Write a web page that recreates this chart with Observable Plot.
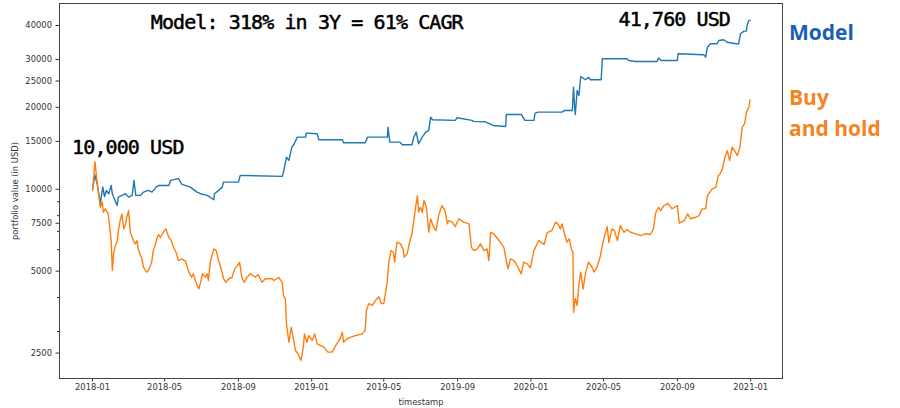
<!DOCTYPE html>
<html>
<head>
<meta charset="utf-8">
<script src="https://cdn.jsdelivr.net/npm/d3@7"></script>
<script src="https://cdn.jsdelivr.net/npm/@observablehq/plot@0.6"></script>
<style>
  html, body { margin: 0; padding: 0; background: #fff; }
  #wrap { position: relative; width: 900px; height: 408px; overflow: hidden; background: #fff; }
  .side { position: absolute; left: 789px; font-family: "Open Sans", sans-serif; font-weight: 700; font-size: 21px; line-height: 31px; white-space: nowrap; }
</style>
</head>
<body>
<div id="wrap">
  <div id="chart"></div>
  <div class="side" style="top:17px;color:#1b5fb5;">Model</div>
  <div class="side" style="top:82px;color:#f5841f;">Buy<br>and hold</div>
</div>
<script>
// ---- Model (blue) ----
const modelDates = ["2018-01-01","2018-01-05","2018-01-09","2018-01-14","2018-01-18","2018-01-21","2018-01-24","2018-01-28","2018-02-01","2018-02-03","2018-02-07","2018-02-11","2018-02-13","2018-02-19","2018-02-25","2018-03-02","2018-03-08","2018-03-11","2018-03-14","2018-03-22","2018-03-27","2018-04-04","2018-04-10","2018-04-17","2018-04-21","2018-05-08","2018-05-11","2018-05-24","2018-05-30","2018-06-13","2018-06-24","2018-06-30","2018-07-11","2018-07-22","2018-07-23","2018-07-30","2018-08-05","2018-08-07","2018-09-01","2018-09-04","2018-11-13","2018-11-15","2018-11-20","2018-11-24","2018-11-27","2018-11-29","2018-12-03","2018-12-08","2018-12-22","2018-12-23","2019-01-10","2019-01-13","2019-02-21","2019-02-23","2019-03-31","2019-04-04","2019-05-07","2019-05-08","2019-05-11","2019-05-28","2019-06-01","2019-06-17","2019-06-20","2019-06-24","2019-06-28","2019-07-04","2019-07-10","2019-07-15","2019-07-18","2019-07-21","2019-08-28","2019-08-31","2019-09-25","2019-09-28","2019-10-17","2019-10-30","2019-11-20","2019-11-21","2019-12-16","2019-12-22","2020-01-06","2020-01-08","2020-01-13","2020-02-22","2020-02-26","2020-03-10","2020-03-12","2020-03-14","2020-03-15","2020-03-18","2020-03-21","2020-03-24","2020-04-01","2020-04-06","2020-04-09","2020-04-27","2020-04-29","2020-06-09","2020-06-12","2020-06-23","2020-07-29","2020-08-01","2020-08-04","2020-09-01","2020-09-02","2020-10-15","2020-10-18","2020-10-21","2020-10-26","2020-11-06","2020-11-09","2020-11-17","2020-11-23","2020-12-07","2020-12-12","2020-12-15","2020-12-21","2020-12-25","2020-12-26","2020-12-29","2020-12-31"];
const modelValues = [10000,11300,10400,8850,10200,9400,9900,9630,10330,9630,9150,8720,9360,9500,9630,9360,9500,10780,9495,9495,9765,9905,9765,10185,10330,10330,10780,10940,10420,10185,9765,9630,9495,9150,9630,9905,10185,10625,10625,11245,11150,11560,13130,12765,13690,14285,14700,15550,15550,16080,16000,15210,15210,14820,14820,15550,15550,16920,14900,14900,14580,14580,15550,16220,14700,15550,16220,16460,18410,18010,17910,18310,17910,17760,17700,17160,17020,18840,18840,17910,17910,19050,19210,19210,19490,19490,23740,19770,18840,23080,22120,25980,25270,25800,25270,25270,30180,30180,29750,29500,29500,30400,29750,29750,31480,31210,30590,33290,34260,34260,35230,35440,34710,34260,34260,37290,38120,38120,40000,41720,41760];

// ---- Buy and hold (orange) ----
const holdDates = ["2018-01-01","2018-01-03","2018-01-05","2018-01-09","2018-01-11","2018-01-14","2018-01-17","2018-01-19","2018-01-22","2018-01-27","2018-01-29","2018-02-01","2018-02-03","2018-02-05","2018-02-08","2018-02-11","2018-02-13","2018-02-16","2018-02-19","2018-02-22","2018-02-25","2018-02-27","2018-03-02","2018-03-05","2018-03-07","2018-03-10","2018-03-13","2018-03-16","2018-03-18","2018-03-21","2018-03-24","2018-03-27","2018-03-30","2018-04-01","2018-04-04","2018-04-07","2018-04-10","2018-04-12","2018-04-16","2018-04-18","2018-04-21","2018-04-24","2018-04-29","2018-05-03","2018-05-08","2018-05-12","2018-05-16","2018-05-20","2018-05-24","2018-05-30","2018-06-05","2018-06-10","2018-06-15","2018-06-18","2018-06-21","2018-06-27","2018-06-30","2018-07-03","2018-07-08","2018-07-11","2018-07-13","2018-07-16","2018-07-19","2018-07-22","2018-07-26","2018-07-30","2018-08-04","2018-08-07","2018-08-11","2018-08-16","2018-08-21","2018-08-26","2018-08-30","2018-09-03","2018-09-07","2018-09-11","2018-09-15","2018-09-21","2018-09-29","2018-10-04","2018-10-10","2018-10-16","2018-10-27","2018-10-30","2018-11-07","2018-11-13","2018-11-15","2018-11-18","2018-11-20","2018-11-24","2018-11-28","2018-12-01","2018-12-05","2018-12-09","2018-12-14","2018-12-18","2018-12-20","2018-12-24","2018-12-27","2019-01-02","2019-01-06","2019-01-10","2019-01-16","2019-01-21","2019-01-28","2019-02-04","2019-02-10","2019-02-17","2019-02-21","2019-02-23","2019-03-01","2019-03-07","2019-03-15","2019-03-26","2019-03-31","2019-04-02","2019-04-06","2019-04-12","2019-04-17","2019-04-23","2019-04-27","2019-05-01","2019-05-04","2019-05-07","2019-05-09","2019-05-13","2019-05-17","2019-05-19","2019-05-23","2019-05-29","2019-06-02","2019-06-04","2019-06-09","2019-06-13","2019-06-17","2019-06-20","2019-06-23","2019-06-26","2019-06-28","2019-07-01","2019-07-04","2019-07-07","2019-07-11","2019-07-15","2019-07-18","2019-07-23","2019-07-27","2019-08-01","2019-08-06","2019-08-11","2019-08-15","2019-08-17","2019-08-23","2019-08-28","2019-09-03","2019-09-11","2019-09-20","2019-09-24","2019-09-28","2019-10-04","2019-10-09","2019-10-15","2019-10-20","2019-10-23","2019-10-26","2019-10-31","2019-11-09","2019-11-17","2019-11-21","2019-11-24","2019-11-28","2019-12-04","2019-12-09","2019-12-16","2019-12-20","2019-12-26","2019-12-31","2020-01-06","2020-01-14","2020-01-23","2020-01-28","2020-02-05","2020-02-11","2020-02-15","2020-02-19","2020-02-22","2020-02-26","2020-03-01","2020-03-05","2020-03-09","2020-03-11","2020-03-12","2020-03-15","2020-03-18","2020-03-21","2020-03-24","2020-03-28","2020-04-01","2020-04-06","2020-04-12","2020-04-15","2020-04-20","2020-04-26","2020-04-30","2020-05-07","2020-05-10","2020-05-15","2020-05-19","2020-05-24","2020-05-29","2020-06-04","2020-06-09","2020-06-15","2020-06-23","2020-07-02","2020-07-10","2020-07-18","2020-07-23","2020-07-27","2020-08-01","2020-08-04","2020-08-09","2020-08-16","2020-08-23","2020-09-01","2020-09-04","2020-09-12","2020-09-18","2020-09-23","2020-10-01","2020-10-07","2020-10-12","2020-10-18","2020-10-21","2020-10-29","2020-11-04","2020-11-08","2020-11-11","2020-11-15","2020-11-19","2020-11-23","2020-11-27","2020-12-01","2020-12-05","2020-12-10","2020-12-14","2020-12-18","2020-12-22","2020-12-25","2020-12-29","2020-12-31"];
const holdValues = [9890,11070,12640,10490,9620,8590,8960,8230,8470,8140,7460,6480,5030,5790,6210,6390,7050,7670,8120,7150,7460,7890,8350,6950,6760,6480,6300,6480,6040,5790,5550,5170,5030,4960,5030,5200,5470,5950,6300,6580,6820,6650,6950,7150,6660,6480,6120,5870,5470,5550,5430,4990,4750,4890,4620,4300,4550,4890,4750,4890,4620,5400,5710,6040,5950,5470,5030,4700,4550,4690,4740,5110,5240,5380,4700,4550,4750,4890,4750,4860,4550,4690,4690,4620,4740,4550,4070,3970,3200,2740,3110,2860,2555,2485,2347,2630,2940,2740,2900,2780,2940,2704,2665,2630,2520,2520,2665,2820,2985,2740,2820,2860,2900,2940,3030,3580,3800,3740,3900,4030,3800,3800,4180,4620,5320,5950,5870,5400,6390,6300,6040,5630,5790,6390,6860,7670,8590,9480,8250,8590,8230,9090,8590,6950,7790,7250,7050,8120,8710,8350,7460,7670,7570,7290,7790,7570,7460,6120,5950,6040,6300,5950,6040,5470,6950,6860,6480,6120,5470,5100,5550,5470,5240,4890,5400,5320,5140,5950,6480,6260,6930,7050,7570,7460,7150,7460,6860,6390,6580,5950,5870,3530,3970,3740,4490,4960,4300,4920,5400,5170,4960,5170,5710,6390,7290,6370,7150,7050,6480,7360,6950,7110,6950,6860,6760,6860,6820,7150,8230,8590,8350,8680,8880,8480,8710,7510,7670,8120,7790,7890,8000,8470,8470,9480,10040,10170,11230,11390,11880,13110,13870,12750,14270,13870,13300,14270,16920,17420,19210,20040,21300];

// ---- axes ----
const yTicks = [2500, 5000, 7500, 10000, 15000, 20000, 25000, 30000, 40000];
const yMinorTicks = [3000, 4000, 6000, 7000, 8000, 9000];
const xTicks = ["2018-01-01","2018-05-01","2018-09-01","2019-01-01","2019-05-01","2019-09-01","2020-01-01","2020-05-01","2020-09-01","2021-01-01"];

// ---- annotations ----
const annoText = ["Model: 318% in 3Y = 61% CAGR", "10,000 USD", "41,760 USD"];
const annoDates = ["2018-04-08", "2017-11-28", "2020-05-26"];
const annoValues = [41030, 14230, 42080];

const parse = s => new Date(s + "T00:00:00Z");
const model = modelDates.map((d, i) => ({date: parse(d), value: modelValues[i]}));
const hold = holdDates.map((d, i) => ({date: parse(d), value: holdValues[i]}));
const anno = annoText.map((t, i) => ({text: t, date: parse(annoDates[i]), value: annoValues[i]}));

const chart = Plot.plot({
  width: 900,
  height: 408,
  marginLeft: 59,
  marginRight: 118,
  marginTop: 3,
  marginBottom: 30,
  style: {fontFamily: "DejaVu Sans, sans-serif", fontSize: "8.4px", color: "#333", background: "#fff"},
  x: {type: "utc", domain: [parse("2017-11-07"), parse("2021-02-23")]},
  y: {type: "log", domain: [2016, 48180]},
  marks: [
    Plot.axisY({ticks: yMinorTicks, tickSize: 2, tickFormat: () => "", label: null, stroke: "#333"}),
    Plot.axisY({ticks: yTicks, tickSize: 3.5, tickPadding: 4, tickFormat: d => String(d), label: "portfolio value (in USD)", labelAnchor: "center", labelArrow: "none", labelOffset: 47, stroke: "#333"}),
    Plot.axisX({ticks: xTicks.map(parse), tickSize: 3.5, tickPadding: 2.5, tickFormat: d3.utcFormat("%Y-%m"), label: "timestamp", labelAnchor: "center", labelArrow: "none", labelOffset: 26, stroke: "#333"}),
    Plot.line(model, {x: "date", y: "value", stroke: "#1f77b4", strokeWidth: 1.4}),
    Plot.line(hold, {x: "date", y: "value", stroke: "#ff7f0e", strokeWidth: 1.4}),
    Plot.text(anno, {x: "date", y: "value", text: "text", textAnchor: "start", lineAnchor: "middle", fontFamily: "DejaVu Sans Mono, monospace", fontSize: 20, fill: "#000", stroke: "#000", strokeWidth: 0.5}),
    Plot.frame({stroke: "#444", strokeWidth: 1})
  ]
});
chart.querySelectorAll('g[aria-label="text"] text').forEach(t => t.style.letterSpacing = "-0.9px");
document.getElementById("chart").appendChild(chart);
</script>
</body>
</html>
